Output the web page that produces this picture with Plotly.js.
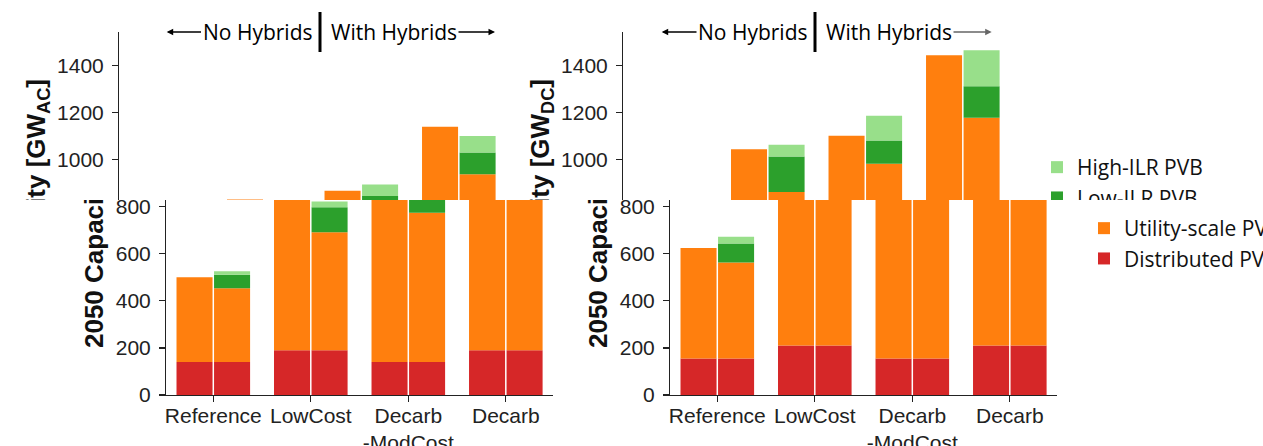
<!DOCTYPE html>
<html><head><meta charset="utf-8">
<script src="https://cdn.plot.ly/plotly-3.0.1.min.js"></script>
<style>
html,body{margin:0;padding:0;background:#fff;overflow:hidden}
#frame{position:relative;width:1263px;height:446px;overflow:hidden;background:#fff}
.band{position:absolute;overflow:hidden}
.plot{position:absolute;width:1263px;height:446px}
</style></head><body>
<div id="frame">
 <div class="band" style="left:0;top:0;width:1263px;height:200px"><div class="plot" id="pTop" style="left:0;top:0"></div></div>
 <div class="band" style="left:0;top:200px;width:1263px;height:246px"><div class="plot" id="pBot" style="left:47px;top:-200px"></div></div>
</div>
<script>
// ---- data ----
const categories = ['Reference', 'LowCost', 'Decarb<br>-ModCost', 'Decarb'];
// AC capacity, GW — no hybrids
const acNoDistributed = [140, 190, 140, 190];
const acNoUtility     = [360, 640, 727, 949];
// AC capacity, GW — with hybrids
const acHyDistributed = [140, 190, 140, 190];
const acHyUtility     = [313, 501, 634, 747];
const acHyLowILR      = [57, 106, 71, 92];
const acHyHighILR     = [15, 24, 49, 71];
// DC capacity, GW — no hybrids
const dcNoDistributed = [155, 210, 155, 210];
const dcNoUtility     = [469, 833, 946, 1232];
// DC capacity, GW — with hybrids
const dcHyDistributed = [155, 210, 155, 210];
const dcHyUtility     = [408, 652, 827, 967];
const dcHyLowILR      = [80, 151, 98, 134];
const dcHyHighILR     = [29, 49, 105, 152];

const seriesNames = {dist: 'Distributed PV', util: 'Utility-scale PV', low: 'Low-ILR PVB', high: 'High-ILR PVB'};
const colors = {dist: '#d62728', util: '#ff7f0e', low: '#2ca02c', high: '#98df8a'};
const ranks = {high: 1, low: 2, util: 3, dist: 4};

function addArr(a, b) { return a.map((v, i) => v + b[i]); }
function zeros(n) { return new Array(n).fill(0); }

function stackTraces(stack, xa, ya, group, legendKeys) {
  let base = zeros(categories.length);
  const out = [];
  stack.forEach(([key, vals]) => {
    out.push({
      type: 'bar', x: categories, y: vals, base: base.slice(),
      xaxis: xa, yaxis: ya, offsetgroup: group,
      name: seriesNames[key], legendgroup: key, legendrank: ranks[key],
      showlegend: legendKeys.indexOf(key) >= 0,
      marker: {color: colors[key], line: {width: 0}},
      hoverinfo: 'skip'
    });
    base = addArr(base, vals);
  });
  return out;
}

// the picture is split in two bands: the lower band is shifted to the right
function buildData(legendKeys) {
  return [].concat(
    stackTraces([['dist', acNoDistributed], ['util', acNoUtility]], 'x', 'y', 'acNo', []),
    stackTraces([['dist', acHyDistributed], ['util', acHyUtility], ['low', acHyLowILR], ['high', acHyHighILR]], 'x', 'y', 'acHy', legendKeys),
    stackTraces([['dist', dcNoDistributed], ['util', dcNoUtility]], 'x2', 'y2', 'dcNo', []),
    stackTraces([['dist', dcHyDistributed], ['util', dcHyUtility], ['low', dcHyLowILR], ['high', dcHyHighILR]], 'x2', 'y2', 'dcHy', [])
  );
}

const W = 1263, H = 446, T = 32, B = 51;
const PH = H - T - B;
const px = v => v / W;
const py = v => (H - B - v) / PH;

const tickFont = {family: 'Liberation Sans, Arial, sans-serif', size: 21, color: '#222'};
const annFont = {family: 'Open Sans, Noto Sans, sans-serif', size: 21, color: '#000'};

function xAxis(domain, anchor, showLabels) {
  return {domain: domain, anchor: anchor, range: [-0.482, 3.487], type: 'category',
    showline: true, linecolor: '#222', linewidth: 1.3, ticks: 'outside', ticklen: 6, tickwidth: 1.3,
    tickcolor: '#222', tickfont: tickFont, showticklabels: showLabels, ticklabelstandoff: -5,
    showgrid: false, zeroline: false, fixedrange: true};
}
function yAxis(anchor, unit, tickvals) {
  return {anchor: anchor, range: [0, 1541], tickmode: 'array', tickvals: tickvals,
    showline: true, linecolor: '#222', linewidth: 1.3, ticks: 'outside', ticklen: 6, tickwidth: 1.3,
    tickcolor: '#222', tickfont: tickFont, ticklabelstandoff: 4, showgrid: false, zeroline: false, fixedrange: true,
    title: {text: '2050 Capacity [GW<sub>' + unit + '</sub>]', standoff: 4,
      font: {family: 'Liberation Sans, Arial, sans-serif', size: 26, color: '#111', weight: 'bold'}}};
}

function headerAnns(tipL, centerL, centerR, tipR, rightArrowColor) {
  return [
    {xref: 'paper', yref: 'paper', x: px(tipL), y: py(32), ax: centerL - tipL, ay: 0, text: 'No Hybrids',
     showarrow: true, arrowhead: 2, arrowsize: 1, arrowwidth: 1.3, arrowcolor: '#000', font: annFont},
    {xref: 'paper', yref: 'paper', x: px(tipR), y: py(32), ax: centerR - tipR, ay: 0, text: 'With Hybrids',
     showarrow: true, arrowhead: 2, arrowsize: 1, arrowwidth: 1.3, arrowcolor: rightArrowColor, font: annFont}
  ];
}
function divider(x) {
  return {type: 'line', xref: 'paper', yref: 'paper', x0: px(x), x1: px(x), y0: py(52), y1: py(12),
    line: {color: '#000', width: 3}};
}

function buildLayout(top) {
  const yTicks = top ? [1000, 1200, 1400] : [0, 200, 400, 600, 800];
  return {
    width: W, height: H, margin: {l: 0, r: 0, t: T, b: B}, autosize: false,
    paper_bgcolor: '#fff', plot_bgcolor: '#fff',
    barmode: 'group', bargap: 0.23, bargroupgap: 0.04,
    xaxis: xAxis([px(119.3), px(119.3 + 387)], 'y', !top),
    yaxis: yAxis('x', 'AC', yTicks),
    xaxis2: xAxis([px(623.3), px(623.3 + 387)], 'y2', !top),
    yaxis2: yAxis('x2', 'DC', yTicks),
    showlegend: true,
    legend: {x: px(1037), xanchor: 'left', y: py(top ? 147 : 208), yanchor: 'top', bgcolor: 'rgba(0,0,0,0)',
      borderwidth: 0, font: {family: 'Open Sans, Noto Sans, sans-serif', size: 21, color: '#111'},
      traceorder: 'normal', tracegroupgap: 0},
    annotations: top ? [].concat(
      headerAnns(166.7, 257.5, 394, 495, '#000'),
      headerAnns(661.7, 753, 889, 991.7, '#666')
    ) : [],
    shapes: top ? [divider(320), divider(815)] : []
  };
}

const cfg = {staticPlot: true, displayModeBar: false};
Plotly.newPlot('pTop', buildData(['high', 'low']), buildLayout(true), cfg);
Plotly.newPlot('pBot', buildData(['util', 'dist']), buildLayout(false), cfg);
</script>
</body></html>
